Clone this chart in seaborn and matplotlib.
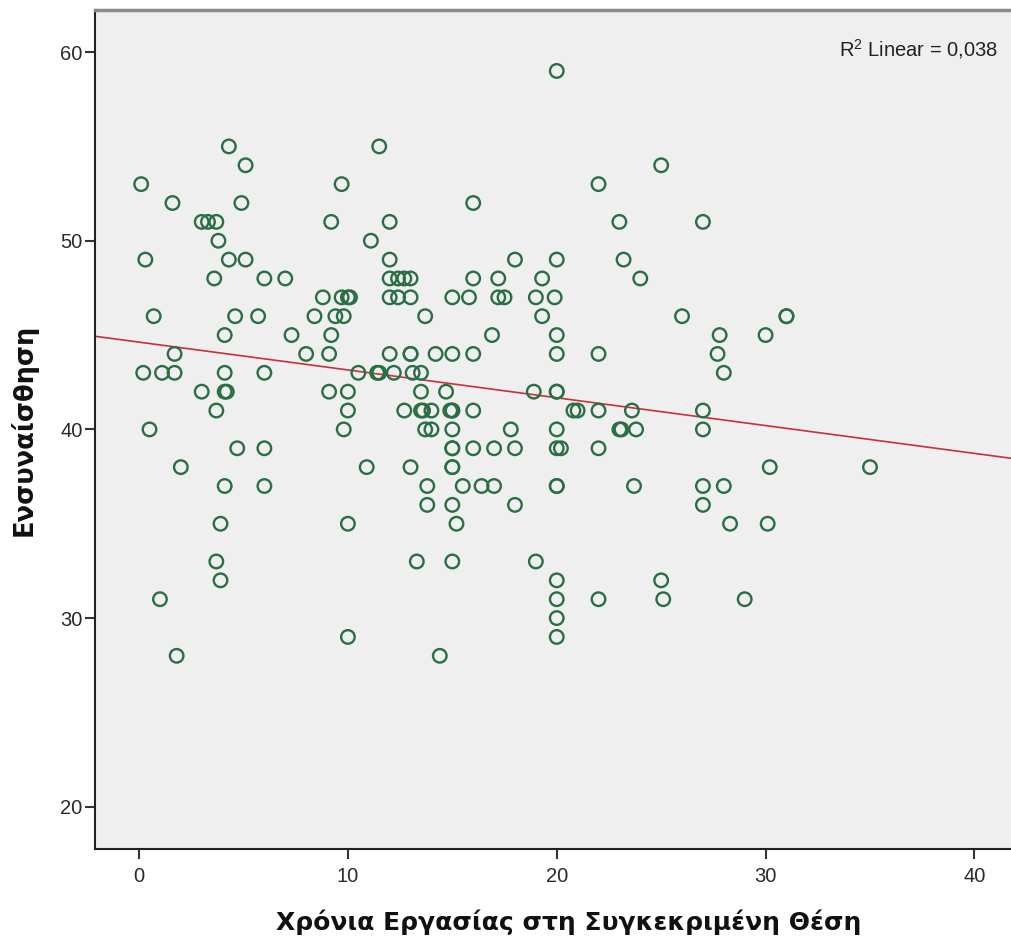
import numpy as np
import pandas as pd
import matplotlib
matplotlib.use("Agg")
import matplotlib.pyplot as plt
import seaborn as sns

# Years in current position
years = [0.1, 0.3, 0.2, 0.5, 0.7, 1.0, 1.1, 1.6, 1.7, 1.7, 1.8, 2.0,
         3.0, 3.0, 3.3, 3.7, 3.6, 3.8, 3.7, 3.7, 3.9, 3.9, 4.1, 4.1, 4.1, 4.2, 4.1,
         4.3, 4.3, 4.6, 4.7, 4.9, 5.1, 5.1, 5.7, 6.0, 6.0, 6.0, 6.0, 7.0, 7.3,
         8.0, 8.4, 8.8, 9.1, 9.1, 9.2, 9.2, 9.4, 9.7, 9.7, 9.8, 9.8, 10.0, 10.1,
         10.0, 10.0, 10.0, 10.0, 10.5, 10.9, 11.1, 11.4, 11.5, 11.5,
         12.0, 12.0, 12.0, 12.0, 12.0, 12.2, 12.4, 12.4, 12.7, 12.7,
         13.0, 13.0, 13.0, 13.0, 13.0, 13.1, 13.3, 13.5, 13.5, 13.7, 13.5, 13.6, 13.7,
         13.8, 13.8, 14.0, 14.0, 14.2, 14.4, 14.7, 14.9,
         15.0, 15.0, 15.0, 15.0, 15.0, 15.0, 15.0, 15.0, 15.0, 15.0, 15.0, 15.2, 15.5,
         15.8, 16.0, 16.0, 16.0, 16.0, 16.0, 16.4, 16.9, 17.0, 17.0, 17.2, 17.2, 17.5,
         17.8, 18.0, 18.0, 18.0, 18.9, 19.0, 19.0, 19.3, 19.3,
         19.9, 20.0, 20.0, 20.0, 20.0, 20.0, 20.0, 20.0, 20.0, 20.0, 20.0, 20.0,
         20.0, 20.0, 20.0, 20.2, 20.8, 21.0,
         22.0, 22.0, 22.0, 22.0, 22.0, 23.0, 23.0, 23.1, 23.2, 23.6, 23.7, 23.8, 24.0,
         25.0, 25.0, 25.1, 26.0, 27.0, 27.0, 27.0, 27.0, 27.0, 27.8, 27.7, 28.0, 28.0,
         28.3, 29.0, 30.0, 30.1, 30.2, 31.0, 31.0, 35.0]

# Empathy score
empathy = [53, 49, 43, 40, 46, 31, 43, 52, 44, 43, 28, 38,
           42, 51, 51, 51, 48, 50, 41, 33, 35, 32, 45, 43, 42, 42, 37,
           55, 49, 46, 39, 52, 54, 49, 46, 48, 43, 39, 37, 48, 45,
           44, 46, 47, 44, 42, 51, 45, 46, 47, 53, 46, 40, 47, 47,
           42, 41, 35, 29, 43, 38, 50, 43, 55, 43,
           51, 49, 48, 47, 44, 43, 48, 47, 48, 41,
           48, 47, 44, 44, 38, 43, 33, 43, 42, 46, 41, 41, 40,
           37, 36, 41, 40, 44, 28, 42, 41,
           47, 44, 41, 41, 40, 39, 39, 38, 38, 36, 33, 35, 37,
           47, 52, 48, 44, 41, 39, 37, 45, 39, 37, 48, 47, 47,
           40, 49, 39, 36, 42, 47, 33, 48, 46,
           47, 59, 49, 45, 44, 42, 42, 40, 39, 37, 37, 32,
           31, 30, 29, 39, 41, 41,
           53, 44, 41, 39, 31, 51, 40, 40, 49, 41, 37, 40, 48,
           54, 32, 31, 46, 51, 41, 40, 37, 36, 45, 44, 43, 37,
           35, 31, 45, 35, 38, 46, 46, 38]

df = pd.DataFrame({"years": years, "empathy": empathy})

xlabel = "Χρόνια Εργασίας στη Συγκεκριμένη Θέση"
ylabel = "Ενσυναίσθηση"
r2_label = "R$^2$ Linear = 0,038"
xticks = [0, 10, 20, 30, 40]
yticks = [20, 30, 40, 50, 60]

sns.set_style("ticks")
plt.rcParams["font.family"] = ["Liberation Sans", "DejaVu Sans"]
plt.rcParams["mathtext.fontset"] = "custom"
plt.rcParams["mathtext.rm"] = "Liberation Sans"

fig = plt.figure(figsize=(10.11, 9.40), dpi=100)
ax = fig.add_axes([95 / 1011, (940 - 849) / 940, (1012 - 95) / 1011, (849 - 10) / 940])
ax.set_facecolor("#efefef")

ax.set_xlim(-2.11, 41.8)
ax.set_ylim(17.76, 62.23)

sns.regplot(data=df, x="years", y="empathy", scatter=False, ci=None,
            truncate=False, ax=ax,
            line_kws={"color": "#c8303a", "linewidth": 1.2})
sns.scatterplot(data=df, x="years", y="empathy", ax=ax,
                facecolor="none", edgecolor="#2a6e44", linewidth=1.7,
                s=95, marker="o", zorder=3)

ax.set_xlim(-2.11, 41.8)
ax.set_ylim(17.76, 62.23)
ax.set_xticks(xticks)
ax.set_yticks(yticks)
ax.tick_params(axis="both", labelsize=14.5, length=7, width=1.5, color="#333333",
               labelcolor="#2a2a2a")
ax.tick_params(axis="x", pad=6)
ax.tick_params(axis="y", pad=2)

ax.set_xlabel(xlabel, fontsize=18, fontweight="bold", labelpad=18, color="#111111",
              family="DejaVu Sans")
ax.set_ylabel(ylabel, fontsize=18.5, fontweight="bold", labelpad=16, color="#111111",
              family="DejaVu Sans")
ax.xaxis.set_label_coords(0.517, -0.072)

for side in ["left", "bottom"]:
    ax.spines[side].set_color("#222222")
    ax.spines[side].set_linewidth(1.5)
ax.spines["top"].set_color("#8a8a8a")
ax.spines["top"].set_linewidth(2.5)
ax.spines["right"].set_visible(False)

ax.text(0.985, 0.953, r2_label, transform=ax.transAxes, ha="right", va="center",
        fontsize=14.5, color="#222222")

fig.savefig("out.png", dpi=100, facecolor="white")
